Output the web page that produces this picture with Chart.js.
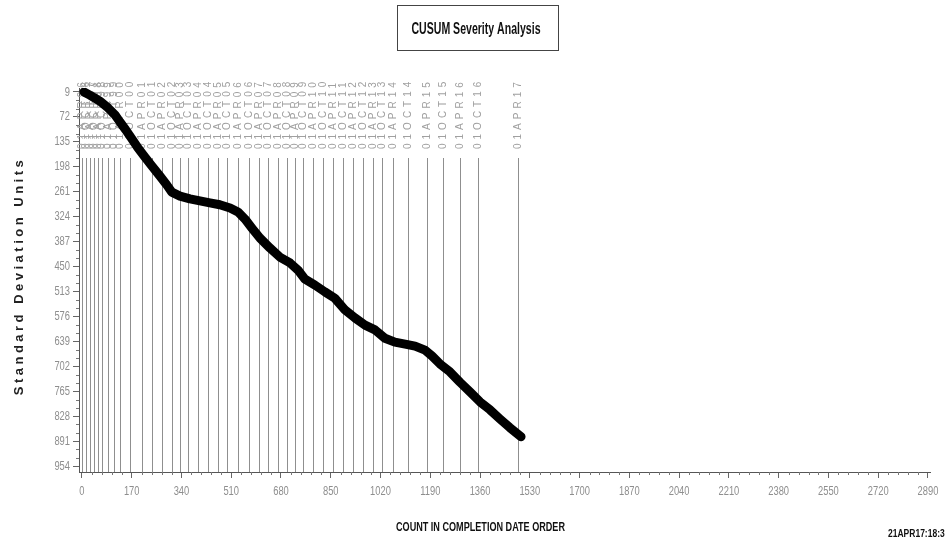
<!DOCTYPE html>
<html><head><meta charset="utf-8">
<script src="https://cdn.jsdelivr.net/npm/chart.js@4"></script>
<style>html,body{margin:0;padding:0;background:#fff;}#wrap{width:945px;height:540px;}</style>
</head><body><div id="wrap"><canvas id="c" width="945" height="540"></canvas></div>
<script>
// CUSUM of severity, in completion-date order
const counts = [7,27,61,89,113,130,150,171,191,215,239,266,290,307,335,369,403,437,471,506,533,557,581,608,642,676,711,738,762,796,830,864,899,933,967,1001,1035,1069,1104,1138,1172,1196,1223,1257,1291,1326,1360,1394,1428,1462,1500];
const cusum  = [9,17,32,49,67,85,105,128,150,173,196,221,244,262,272,279,284,289,294,302,312,330,353,378,403,426,441,459,482,497,514,530,560,580,598,610,631,641,646,651,661,676,696,716,742,767,792,812,835,857,880];

// highlighted observations (square symbols)
const markCounts = [557, 1500];
const markValues = [330, 880];

// reference dates and the count reached at each
const dateLabels = ['01APR96','01OCT96','01APR97','01OCT97','01APR98','01OCT98','01APR99','01OCT99','01APR00','01OCT00','01APR01','01OCT01','01APR02','01OCT02','01APR03','01OCT03','01APR04','01OCT04','01APR05','01OCT05','01APR06','01OCT06','01APR07','01OCT07','01APR08','01OCT08','01APR09','01OCT09','01APR10','01OCT10','01APR11','01OCT11','01APR12','01OCT12','01APR13','01OCT13','01APR14','01OCT14','01APR15','01OCT15','01APR16','01OCT16','01APR17'];
const dateCounts = [0,14,27,41,55,68,89,109,130,164,205,239,273,307,335,362,396,430,465,495,533,571,605,635,669,700,728,755,789,823,858,892,926,960,994,1025,1062,1113,1178,1233,1291,1353,1490];

// axis tick labels
const xTicks = [0,170,340,510,680,850,1020,1190,1360,1530,1700,1870,2040,2210,2380,2550,2720,2890];
const yTicks = [9,72,135,198,261,324,387,450,513,576,639,702,765,828,891,954];

const SANS = '"Liberation Sans", Arial, sans-serif';

// draw text squeezed horizontally (condensed look)
function squeezed(ctx, text, x, y, font, sx, align, color, targetWidth) {
  ctx.save();
  ctx.font = font;
  ctx.fillStyle = color;
  ctx.textBaseline = 'middle';
  ctx.textAlign = 'left';
  const w = ctx.measureText(text).width;
  if (targetWidth) sx = targetWidth / w;
  const ww = w * sx;
  let x0 = x;
  if (align === 'center') x0 = x - ww / 2;
  else if (align === 'right') x0 = x - ww;
  ctx.translate(x0, y);
  ctx.scale(sx, 1);
  ctx.fillText(text, 0, 0);
  ctx.restore();
}

const dateLinesPlugin = {
  id: 'dateLines',
  beforeDatasetsDraw(chart) {
    const ctx = chart.ctx, xs = chart.scales.x, a = chart.chartArea;
    ctx.save();
    ctx.strokeStyle = '#8f8f8f';
    ctx.lineWidth = 1;
    dateCounts.forEach((c, i) => {
      const px = Math.round(xs.getPixelForValue(c)) + 0.5;
      ctx.beginPath();
      ctx.moveTo(px, 158);
      ctx.lineTo(px, a.bottom);
      ctx.stroke();
      ctx.save();
      ctx.translate(px, 149);
      ctx.rotate(-Math.PI / 2);
      ctx.font = '10px ' + SANS;
      ctx.letterSpacing = '4px';
      ctx.fillStyle = '#a0a0a0';
      ctx.textAlign = 'left';
      ctx.textBaseline = 'middle';
      ctx.fillText(dateLabels[i], 0, 0);
      ctx.restore();
    });
    ctx.restore();
  }
};

const axisTextPlugin = {
  id: 'axisText',
  afterDraw(chart) {
    const ctx = chart.ctx, xs = chart.scales.x, ys = chart.scales.y, a = chart.chartArea;
    ctx.save();
    // minor tick marks
    ctx.strokeStyle = '#777';
    ctx.lineWidth = 1;
    for (let v = 0; v <= 2890; v += 34) {
      if (v % 170 === 0) continue;
      const px = Math.round(xs.getPixelForValue(v)) + 0.5;
      ctx.beginPath(); ctx.moveTo(px, a.bottom); ctx.lineTo(px, a.bottom + 3); ctx.stroke();
    }
    for (let v = 9; v <= 954; v += 21) {
      if ((v - 9) % 63 === 0) continue;
      const py = Math.round(ys.getPixelForValue(v)) + 0.5;
      ctx.beginPath(); ctx.moveTo(a.left - 3, py); ctx.lineTo(a.left, py); ctx.stroke();
    }
    // tick labels
    xTicks.forEach(v => squeezed(ctx, String(v), xs.getPixelForValue(v), a.bottom + 19, '13px ' + SANS, 0.72, 'center', '#8e8e8e'));
    yTicks.forEach(v => squeezed(ctx, String(v), a.left - 9, ys.getPixelForValue(v), '13px ' + SANS, 0.72, 'right', '#8e8e8e'));
    ctx.restore();
  }
};

const titlesPlugin = {
  id: 'titles',
  afterDraw(chart) {
    const ctx = chart.ctx;
    ctx.save();
    // boxed title
    ctx.strokeStyle = '#444';
    ctx.lineWidth = 1;
    ctx.strokeRect(397.5, 5.5, 161, 45);
    squeezed(ctx, 'CUSUM Severity Analysis', 476, 30, 'bold 16px ' + SANS, 1, 'center', '#111', 129);
    // x axis title
    squeezed(ctx, 'COUNT IN COMPLETION DATE ORDER', 480.5, 527, 'bold 13px ' + SANS, 1, 'center', '#111', 169);
    // timestamp
    squeezed(ctx, '21APR17:18:3', 888, 534, 'bold 10px ' + SANS, 0.85, 'left', '#111');
    // y axis title
    ctx.save();
    ctx.translate(19, 276);
    ctx.rotate(-Math.PI / 2);
    ctx.textAlign = 'center';
    ctx.textBaseline = 'middle';
    ctx.font = 'bold 13px ' + SANS;
    ctx.letterSpacing = '3.5px';
    ctx.fillStyle = '#222';
    ctx.fillText('Standard Deviation Units', 0, 0);
    ctx.restore();
    ctx.restore();
  }
};

new Chart(document.getElementById('c'), {
  type: 'scatter',
  data: {
    datasets: [
      {
        data: counts.map((c, i) => ({ x: c, y: cusum[i] })),
        showLine: true,
        borderColor: '#000',
        borderWidth: 9,
        borderCapStyle: 'round',
        borderJoinStyle: 'round',
        pointRadius: 0,
        tension: 0
      },
      {
        data: markCounts.map((c, i) => ({ x: c, y: markValues[i] })),
        showLine: false,
        pointStyle: 'rect',
        pointRadius: 3.5,
        borderColor: '#333',
        borderWidth: 1,
        backgroundColor: '#fff'
      }
    ]
  },
  options: {
    responsive: false,
    animation: false,
    devicePixelRatio: 1,
    layout: { padding: { top: 88, right: 15, left: 0, bottom: 0 } },
    plugins: { legend: { display: false }, tooltip: { enabled: false }, title: { display: false } },
    scales: {
      x: {
        type: 'linear',
        min: -10, max: 2897,
        afterBuildTicks: s => { s.ticks = xTicks.map(v => ({ value: v })); },
        afterFit: s => { s.height = 68; },
        ticks: { display: false },
        grid: { drawOnChartArea: false, drawTicks: true, tickLength: 6, color: '#666' },
        border: { display: true, color: '#555' }
      },
      y: {
        type: 'linear',
        reverse: true,
        min: -1, max: 969,
        afterBuildTicks: s => { s.ticks = yTicks.map(v => ({ value: v })); },
        afterFit: s => { s.width = 79; },
        ticks: { display: false },
        grid: { drawOnChartArea: false, drawTicks: true, tickLength: 6, color: '#666' },
        border: { display: true, color: '#555' }
      }
    }
  },
  plugins: [dateLinesPlugin, axisTextPlugin, titlesPlugin]
});
</script></body></html>
